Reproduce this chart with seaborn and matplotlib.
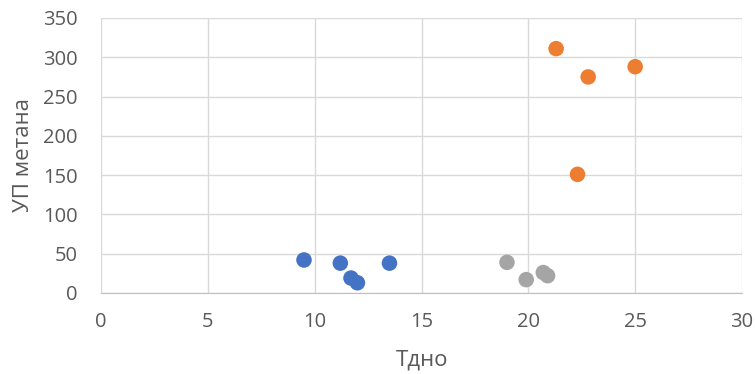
import matplotlib
matplotlib.use("Agg")
import matplotlib.pyplot as plt
import seaborn as sns
import pandas as pd

# Bottom temperature (Тдно) vs methane production (УП метана), three groups
blue_x = [9.5, 11.2, 11.7, 12.0, 13.5]
blue_y = [42, 38, 19, 13, 38]
gray_x = [19.0, 19.9, 20.7, 20.9]
gray_y = [39, 17, 26, 22]
orange_x = [21.3, 22.3, 22.8, 25.0]
orange_y = [311, 151, 275, 288]

x_ticks = [0, 5, 10, 15, 20, 25, 30]
y_ticks = [0, 50, 100, 150, 200, 250, 300, 350]

df = pd.DataFrame({
    "x": blue_x + gray_x + orange_x,
    "y": blue_y + gray_y + orange_y,
    "group": ["a"] * len(blue_x) + ["b"] * len(gray_x) + ["c"] * len(orange_x),
})
palette = {"a": "#4472C4", "b": "#A5A5A5", "c": "#ED7D31"}

sns.set_style("white")
plt.rcParams["font.family"] = ["Open Sans", "DejaVu Sans"]

fig = plt.figure(figsize=(7.55, 3.74), dpi=100)
ax = fig.add_axes([0.1338, 0.2166, 0.849, 0.7353])

sns.scatterplot(data=df, x="x", y="y", hue="group", palette=palette,
                s=125, edgecolor="none", legend=False, ax=ax, zorder=3)

ax.set_xlim(0, 30)
ax.set_ylim(0, 350)
ax.set_xticks(x_ticks)
ax.set_yticks(y_ticks)
ax.grid(True, color="#D9D9D9", linewidth=1.0, zorder=0)
ax.set_axisbelow(True)
for side in ["top", "right", "left"]:
    ax.spines[side].set_visible(False)
ax.spines["bottom"].set_color("#BFBFBF")
ax.tick_params(axis="both", length=0, labelsize=14.5, colors="#595959")
ax.tick_params(axis="y", pad=17)
ax.tick_params(axis="x", pad=14)
ax.set_xlabel("Тдно", fontsize=16, color="#595959", labelpad=12)
ax.set_ylabel("УП метана", fontsize=16, color="#595959", labelpad=6)

fig.savefig("out.png", dpi=100)
